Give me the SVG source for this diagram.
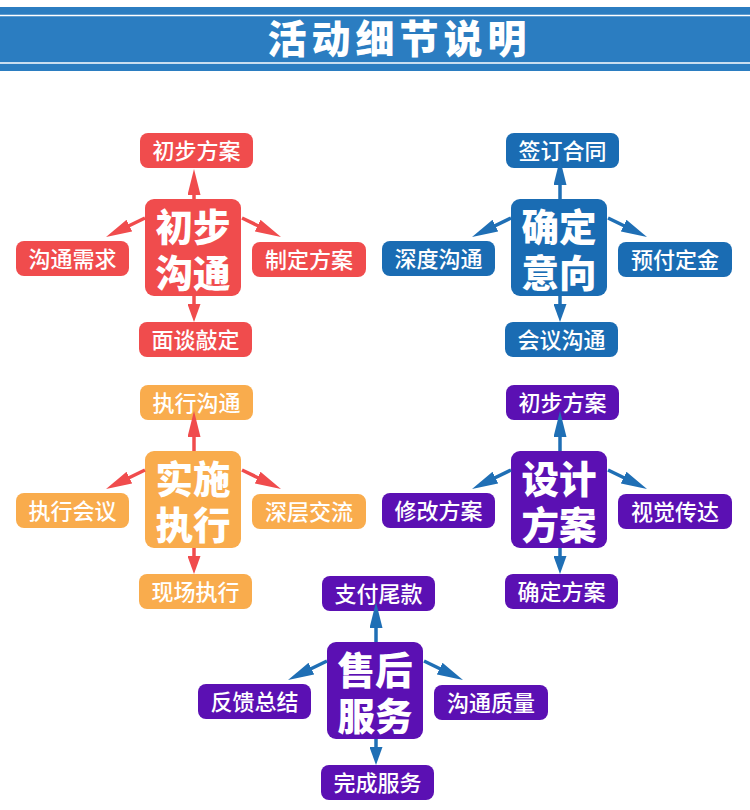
<svg xmlns="http://www.w3.org/2000/svg" width="750" height="810" viewBox="0 0 750 810">
<style>
.t{font-family:"Noto Sans CJK SC","Noto Sans",sans-serif;fill:#fff;text-anchor:middle}
.s{font-size:22px;font-weight:500}
.c{font-size:37.5px;font-weight:900}
.red{fill:#f04c4d}.blu{fill:#1a6cb3}.org{fill:#f9ac4d}.pur{fill:#5b10b3}
.ar{stroke:#f04c4d;stroke-width:3.5;fill:none}
.ab{stroke:#1f6fb5;stroke-width:3.5;fill:none}
</style>
<defs>
<marker id="rl" viewBox="0 0 26 13" refX="13" refY="6.5" markerWidth="26" markerHeight="13" markerUnits="userSpaceOnUse" orient="auto"><path d="M0,0L26,6.5L0,13z" fill="#f04c4d"/></marker>
<marker id="rs" viewBox="0 0 18 13" refX="9" refY="6.5" markerWidth="18" markerHeight="13" markerUnits="userSpaceOnUse" orient="auto"><path d="M0,0L18,6.5L0,13z" fill="#f04c4d"/></marker>
<marker id="bl" viewBox="0 0 26 13" refX="13" refY="6.5" markerWidth="26" markerHeight="13" markerUnits="userSpaceOnUse" orient="auto"><path d="M0,0L26,6.5L0,13z" fill="#1f6fb5"/></marker>
<marker id="bs" viewBox="0 0 18 13" refX="9" refY="6.5" markerWidth="18" markerHeight="13" markerUnits="userSpaceOnUse" orient="auto"><path d="M0,0L18,6.5L0,13z" fill="#1f6fb5"/></marker>
</defs>
<rect width="750" height="810" fill="#fff"/>
<g id="header">
<rect x="0" y="7" width="750" height="64" fill="#2b7dc1"/>
<line x1="0" y1="15.5" x2="750" y2="15.5" stroke="#fff" stroke-width="1.5"/>
<line x1="0" y1="63" x2="750" y2="63" stroke="#fff" stroke-width="1.5"/>
<text class="t" x="399.5" y="53" style="font-size:39px;font-weight:900;letter-spacing:5px">活动细节说明</text>
</g>

<!-- Cluster 1 -->
<g id="c1-top"><rect class="red" x="140" y="133" width="113" height="35" rx="8"/><text class="t s" x="196.5" y="159">初步方案</text></g>
<g id="c1-center"><rect class="red" x="145" y="199" width="96" height="97" rx="9"/><text class="t c" x="193" y="241">初步</text><text class="t c" x="193" y="287">沟通</text></g>
<g id="c1-left"><rect class="red" x="16" y="241" width="113" height="35" rx="8"/><text class="t s" x="72.5" y="267">沟通需求</text></g>
<g id="c1-right"><rect class="red" x="252" y="242" width="114" height="35" rx="8"/><text class="t s" x="309" y="268">制定方案</text></g>
<g id="c1-bottom"><rect class="red" x="139" y="322" width="113" height="35" rx="8"/><text class="t s" x="195.5" y="348">面谈敲定</text></g>

<!-- Cluster 2 -->
<g id="c2-top"><rect class="blu" x="506" y="133" width="113" height="35" rx="8"/><text class="t s" x="562.5" y="159">签订合同</text></g>
<g id="c2-center"><rect class="blu" x="511" y="199" width="96" height="97" rx="9"/><text class="t c" x="559" y="241">确定</text><text class="t c" x="559" y="287">意向</text></g>
<g id="c2-left"><rect class="blu" x="382" y="241" width="113" height="35" rx="8"/><text class="t s" x="438.5" y="267">深度沟通</text></g>
<g id="c2-right"><rect class="blu" x="618" y="242" width="114" height="35" rx="8"/><text class="t s" x="675" y="268">预付定金</text></g>
<g id="c2-bottom"><rect class="blu" x="505" y="322" width="113" height="35" rx="8"/><text class="t s" x="561.5" y="348">会议沟通</text></g>

<!-- Cluster 3 -->
<g id="c3-top"><rect class="org" x="140" y="385" width="113" height="35" rx="8"/><text class="t s" x="196.5" y="411">执行沟通</text></g>
<g id="c3-center"><rect class="org" x="145" y="451" width="96" height="97" rx="9"/><text class="t c" x="193" y="493">实施</text><text class="t c" x="193" y="539">执行</text></g>
<g id="c3-left"><rect class="org" x="16" y="493" width="113" height="35" rx="8"/><text class="t s" x="72.5" y="519">执行会议</text></g>
<g id="c3-right"><rect class="org" x="252" y="494" width="114" height="35" rx="8"/><text class="t s" x="309" y="520">深层交流</text></g>
<g id="c3-bottom"><rect class="org" x="139" y="574" width="113" height="35" rx="8"/><text class="t s" x="195.5" y="600">现场执行</text></g>

<!-- Cluster 4 -->
<g id="c4-top"><rect class="pur" x="506" y="385" width="113" height="35" rx="8"/><text class="t s" x="562.5" y="411">初步方案</text></g>
<g id="c4-center"><rect class="pur" x="511" y="451" width="96" height="97" rx="9"/><text class="t c" x="559" y="493">设计</text><text class="t c" x="559" y="539">方案</text></g>
<g id="c4-left"><rect class="pur" x="382" y="493" width="113" height="35" rx="8"/><text class="t s" x="438.5" y="519">修改方案</text></g>
<g id="c4-right"><rect class="pur" x="618" y="494" width="114" height="35" rx="8"/><text class="t s" x="675" y="520">视觉传达</text></g>
<g id="c4-bottom"><rect class="pur" x="505" y="574" width="113" height="35" rx="8"/><text class="t s" x="561.5" y="600">确定方案</text></g>

<!-- Cluster 5 -->
<g id="c5-top"><rect class="pur" x="322" y="576" width="113" height="35" rx="8"/><text class="t s" x="378.5" y="602">支付尾款</text></g>
<g id="c5-center"><rect class="pur" x="327" y="642" width="96" height="97" rx="9"/><text class="t c" x="375" y="684">售后</text><text class="t c" x="375" y="730">服务</text></g>
<g id="c5-left"><rect class="pur" x="198" y="684" width="113" height="35" rx="8"/><text class="t s" x="254.5" y="710">反馈总结</text></g>
<g id="c5-right"><rect class="pur" x="434" y="685" width="114" height="35" rx="8"/><text class="t s" x="491" y="711">沟通质量</text></g>
<g id="c5-bottom"><rect class="pur" x="321" y="765" width="113" height="35" rx="8"/><text class="t s" x="377.5" y="791">完成服务</text></g>

<g id="connectors">
<line class="ar" x1="194" y1="199" x2="194" y2="182" marker-end="url(#rl)"/>
<line class="ar" x1="194" y1="296" x2="194" y2="313" marker-end="url(#rs)"/>
<line class="ar" x1="145" y1="218" x2="117.7" y2="231.3" marker-end="url(#rl)"/>
<line class="ar" x1="242" y1="218" x2="269.3" y2="231.3" marker-end="url(#rl)"/>

<line class="ab" x1="560" y1="199" x2="560" y2="172" marker-end="url(#bl)"/>
<line class="ab" x1="560" y1="296" x2="560" y2="313" marker-end="url(#bs)"/>
<line class="ab" x1="511" y1="218" x2="483.7" y2="231.3" marker-end="url(#bl)"/>
<line class="ab" x1="608" y1="218" x2="635.3" y2="231.3" marker-end="url(#bl)"/>

<line class="ar" x1="194" y1="451" x2="194" y2="424" marker-end="url(#rl)"/>
<line class="ar" x1="194" y1="548" x2="194" y2="565" marker-end="url(#rs)"/>
<line class="ar" x1="145" y1="470" x2="117.7" y2="483.3" marker-end="url(#rl)"/>
<line class="ar" x1="242" y1="470" x2="269.3" y2="483.3" marker-end="url(#rl)"/>

<line class="ab" x1="560" y1="451" x2="560" y2="424" marker-end="url(#bl)"/>
<line class="ab" x1="560" y1="548" x2="560" y2="565" marker-end="url(#bs)"/>
<line class="ab" x1="511" y1="470" x2="483.7" y2="483.3" marker-end="url(#bl)"/>
<line class="ab" x1="608" y1="470" x2="635.3" y2="483.3" marker-end="url(#bl)"/>

<line class="ab" x1="376" y1="642" x2="376" y2="615" marker-end="url(#bl)"/>
<line class="ab" x1="376" y1="739" x2="376" y2="756" marker-end="url(#bs)"/>
<line class="ab" x1="327" y1="661" x2="299.7" y2="674.3" marker-end="url(#bl)"/>
<line class="ab" x1="424" y1="661" x2="451.3" y2="674.3" marker-end="url(#bl)"/>
</g>
</svg>
